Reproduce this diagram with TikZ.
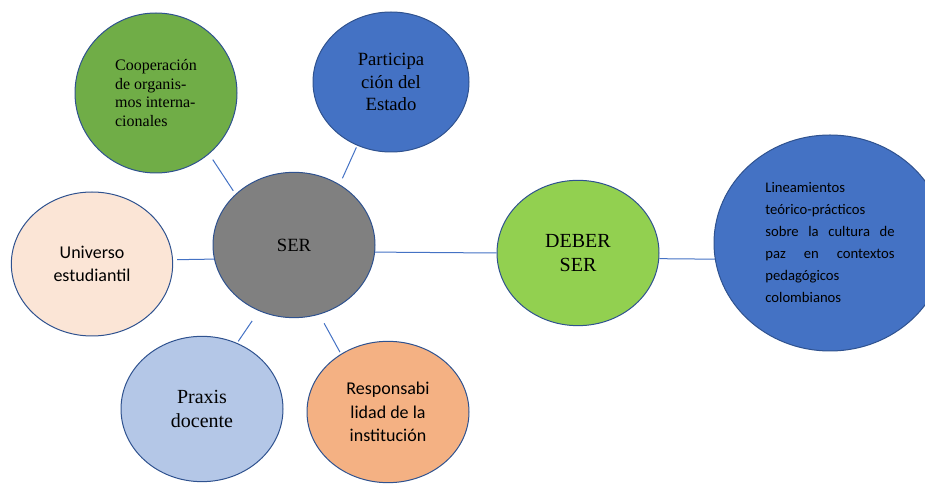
\documentclass[tikz,border=0pt]{standalone}
\usepackage{fontspec}
\setmainfont{Liberation Serif}
\newfontfamily\calibri{Carlito}
\usetikzlibrary{shapes.geometric}
\definecolor{outline}{HTML}{2F528F}
\definecolor{spokeblue}{HTML}{4472C4}
\definecolor{coopgreen}{HTML}{70AD47}
\definecolor{stateblue}{HTML}{4472C4}
\definecolor{sergrey}{HTML}{808080}
\definecolor{peach}{HTML}{FBE5D6}
\definecolor{paleblue}{HTML}{B4C7E7}
\definecolor{apricot}{HTML}{F4B183}
\definecolor{deberlime}{HTML}{92D050}
\tikzset{
  bubble/.style={ellipse, draw=outline, line width=0.75pt, inner sep=0pt, align=center},
  spoke/.style={draw=spokeblue, line width=0.75pt}
}

\begin{document}
\begin{tikzpicture}[x=0.75pt, y=-0.75pt]
\useasboundingbox (0, 0) rectangle (925, 484);
\clip (0, 0) rectangle (925, 484);
\node[bubble, fill=coopgreen, minimum width=121.5pt, minimum height=120pt, align=left, font=\fontsize{12}{14}\selectfont] (coop) at (156, 93) {Cooperación\\de organis-\\mos interna-\\cionales};
\node[bubble, fill=stateblue, minimum width=117pt, minimum height=105pt, font=\fontsize{14}{16.7}\selectfont] (estado) at (391, 82) {Participa\\ción del\\Estado};
\node[bubble, fill=sergrey, minimum width=121.5pt, minimum height=109pt, font=\fontsize{14}{16.7}\selectfont] (ser) at (294, 245) {SER};
\node[bubble, fill=peach, minimum width=121pt, minimum height=108pt, font=\calibri\fontsize{13.5}{17.5}\selectfont] (universo) at (92, 264) {Universo\\estudiantil};
\node[bubble, fill=paleblue, minimum width=121.5pt, minimum height=109pt, font=\fontsize{15}{17.5}\selectfont] (praxis) at (202, 409) {Praxis\\docente};
\node[bubble, fill=apricot, minimum width=121.5pt, minimum height=106pt, font=\calibri\fontsize{13.5}{17.6}\selectfont] (resp) at (388, 412) {Responsabi\\lidad de la\\institución};
\node[bubble, fill=deberlime, minimum width=121.5pt, minimum height=109pt, font=\fontsize{15}{18.5}\selectfont] (deber) at (578, 253) {DEBER\\SER};
\node[bubble, fill=stateblue, minimum width=174pt, minimum height=162pt, align=left, font=\calibri\fontsize{11}{16.5}\selectfont] (lineas) at (830, 243) {Lineamientos\\teórico-prácticos\\\makebox[97pt][s]{sobre la cultura de}\\\makebox[97pt][s]{paz en contextos}\\pedagógicos\\colombianos};
\draw[spoke, shorten <=5pt, shorten >=3pt] (coop.-49) -- (ser.139);
\draw[spoke, shorten <=1.5pt, shorten >=5pt] (estado.-118) -- (ser.53);
\draw[spoke, shorten <=3pt] (universo.3) -- (ser.190);
\draw[spoke] (ser.-5) -- (deber.180);
\draw[spoke] (deber.-4) -- (lineas.188);
\draw[spoke, shorten <=9pt, shorten >=1.5pt] (ser.-118) -- (praxis.62);
\draw[spoke, shorten <=7.5pt, shorten >=1.5pt] (ser.-70) -- (resp.129);
\end{tikzpicture}
\end{document}
